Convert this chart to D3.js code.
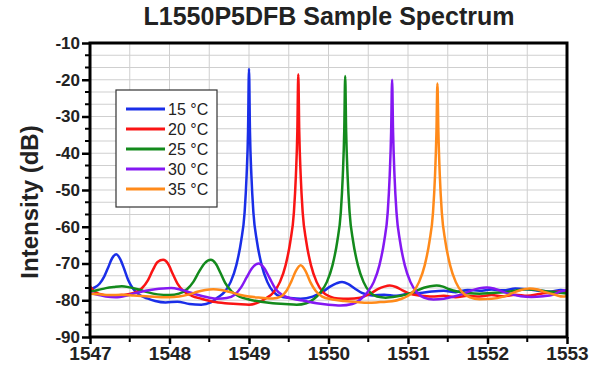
<!DOCTYPE html>
<html>
<head>
<meta charset="utf-8">
<script src="https://cdn.jsdelivr.net/npm/d3@7"></script>
<style>
  body { margin: 0; background: #fff; }
  svg { display: block; font-family: Arial, "Liberation Sans", sans-serif; }
</style>
</head>
<body>
<div id="chart"></div>
<script>
// spectra: [wavelength (nm), intensity (dB)]
const blue15 = [[1547.00,-77.0],[1547.06,-76.5],[1547.12,-75.5],[1547.18,-73.5],[1547.23,-71],[1547.28,-68.5],[1547.33,-67.5],[1547.38,-68.8],[1547.43,-71.5],[1547.48,-74.5],[1547.54,-76.8],[1547.62,-78.5],[1547.72,-79.5],[1547.82,-80.2],[1547.95,-80.6],[1548.1,-80.4],[1548.25,-81],[1548.4,-81.2],[1548.52,-80.6],[1548.61,-79.2],[1548.69,-77.8],[1548.77,-75],[1548.84,-70.5],[1548.9,-64],[1548.945,-56],[1548.97,-46],[1548.988,-34],[1549.0,-17],[1549.012,-34],[1549.03,-46],[1549.055,-56],[1549.1,-64],[1549.16,-70.5],[1549.23,-75],[1549.31,-77.8],[1549.4,-79],[1549.52,-79.4],[1549.65,-79.6],[1549.8,-79],[1549.92,-77.8],[1550.02,-76.3],[1550.1,-75.4],[1550.17,-75],[1550.25,-75.6],[1550.33,-76.8],[1550.42,-78],[1550.55,-78.7],[1550.7,-78.5],[1550.85,-78.8],[1551.0,-78.2],[1551.15,-78],[1551.3,-77.6],[1551.45,-77.4],[1551.6,-77.8],[1551.75,-77.2],[1551.9,-77.4],[1552.05,-77.1],[1552.2,-77.3],[1552.35,-76.8],[1552.5,-77],[1552.65,-77.4],[1552.8,-77.6],[1552.92,-77.2],[1553.0,-77.5]];
const red20 = [[1547.00,-76.2],[1547.05,-77.5],[1547.12,-78.3],[1547.25,-78.8],[1547.4,-78.6],[1547.55,-78],[1547.65,-76.8],[1547.73,-74.5],[1547.79,-71.8],[1547.85,-69.6],[1547.92,-69],[1547.98,-70],[1548.04,-72.8],[1548.1,-75.5],[1548.18,-77.6],[1548.28,-78.8],[1548.4,-79.6],[1548.55,-80.4],[1548.7,-80.8],[1548.85,-81],[1549.0,-81.2],[1549.12,-80.6],[1549.22,-79.4],[1549.31,-77.8],[1549.39,-75],[1549.46,-70.5],[1549.52,-64],[1549.565,-56],[1549.59,-46],[1549.608,-34],[1549.62,-18.5],[1549.632,-34],[1549.65,-46],[1549.675,-56],[1549.72,-64],[1549.78,-70.5],[1549.85,-75],[1549.93,-77.8],[1550.02,-79],[1550.12,-79.5],[1550.25,-79.6],[1550.4,-79.3],[1550.52,-78.3],[1550.62,-77],[1550.7,-76.3],[1550.77,-76],[1550.85,-76.4],[1550.93,-77.3],[1551.02,-78.2],[1551.15,-78.7],[1551.3,-79],[1551.45,-78.8],[1551.6,-79.2],[1551.75,-78.8],[1551.9,-79],[1552.05,-78.6],[1552.2,-78.9],[1552.35,-78.5],[1552.5,-78.8],[1552.65,-78.3],[1552.8,-77.8],[1552.92,-77.6],[1553.0,-78]];
const green25 = [[1547.00,-77.6],[1547.1,-77.2],[1547.2,-76.7],[1547.3,-76.4],[1547.4,-76.2],[1547.5,-76.5],[1547.6,-77],[1547.72,-77.8],[1547.85,-78.4],[1548.0,-78.6],[1548.12,-78.2],[1548.22,-77],[1548.3,-75],[1548.37,-72.3],[1548.44,-70],[1548.52,-69],[1548.58,-70],[1548.64,-72.5],[1548.7,-75.3],[1548.78,-77.6],[1548.88,-79],[1549.0,-79.8],[1549.15,-80.4],[1549.3,-80.8],[1549.45,-81],[1549.6,-81.2],[1549.72,-80.8],[1549.82,-79.6],[1549.9,-77.8],[1549.98,-75],[1550.05,-70.5],[1550.11,-64],[1550.155,-56],[1550.18,-46],[1550.198,-34],[1550.21,-19],[1550.222,-34],[1550.24,-46],[1550.265,-56],[1550.31,-64],[1550.37,-70.5],[1550.44,-75],[1550.52,-77.8],[1550.61,-79],[1550.72,-79.3],[1550.85,-79],[1550.98,-78.4],[1551.1,-77.5],[1551.2,-76.6],[1551.28,-76.2],[1551.36,-76],[1551.44,-76.3],[1551.52,-77],[1551.62,-77.6],[1551.75,-78],[1551.9,-78.2],[1552.05,-78],[1552.2,-77.8],[1552.35,-77.4],[1552.5,-77],[1552.62,-77.2],[1552.75,-77.6],[1552.88,-77.9],[1553.0,-78.2]];
const purple30 = [[1547.00,-78],[1547.1,-78.5],[1547.2,-79],[1547.32,-79.2],[1547.45,-78.8],[1547.58,-78],[1547.7,-77.4],[1547.82,-77],[1547.92,-76.8],[1548.02,-76.7],[1548.12,-77],[1548.22,-77.6],[1548.35,-78.5],[1548.48,-79.2],[1548.6,-79.6],[1548.72,-79.4],[1548.82,-78.5],[1548.9,-76.5],[1548.97,-73.8],[1549.04,-71.2],[1549.12,-70],[1549.19,-71.2],[1549.26,-74],[1549.33,-76.8],[1549.42,-78.6],[1549.55,-79.6],[1549.7,-80.2],[1549.85,-80.8],[1550.0,-81.2],[1550.15,-81.4],[1550.3,-81],[1550.4,-79.8],[1550.49,-77.8],[1550.57,-75],[1550.64,-70.5],[1550.7,-64],[1550.745,-56],[1550.77,-46],[1550.788,-34],[1550.80,-20],[1550.812,-34],[1550.83,-46],[1550.855,-56],[1550.9,-64],[1550.96,-70.5],[1551.03,-75],[1551.11,-77.8],[1551.2,-79.3],[1551.32,-79.8],[1551.45,-79.6],[1551.58,-79],[1551.7,-78.2],[1551.8,-77.3],[1551.9,-76.7],[1551.99,-76.5],[1552.08,-76.8],[1552.18,-77.6],[1552.3,-78.4],[1552.42,-78.9],[1552.55,-79.1],[1552.7,-78.9],[1552.82,-78.5],[1552.92,-77.6],[1553.0,-77.2]];
const orange35 = [[1547.00,-78.2],[1547.12,-78.4],[1547.25,-78.6],[1547.4,-78.5],[1547.55,-78.7],[1547.7,-78.9],[1547.85,-79.1],[1548.0,-79.2],[1548.12,-79],[1548.25,-78.4],[1548.35,-77.7],[1548.45,-77.2],[1548.55,-77],[1548.65,-77.2],[1548.75,-77.7],[1548.88,-78.5],[1549.0,-79],[1549.15,-79.3],[1549.3,-79.5],[1549.4,-79],[1549.47,-77.5],[1549.53,-75],[1549.59,-72],[1549.65,-70.5],[1549.71,-72],[1549.77,-75],[1549.84,-77.5],[1549.92,-79],[1550.05,-79.8],[1550.2,-80.2],[1550.35,-80.5],[1550.5,-80.7],[1550.65,-80.5],[1550.8,-80.3],[1550.92,-79.6],[1550.99,-78.9],[1551.06,-77.8],[1551.14,-75],[1551.21,-70.5],[1551.27,-64],[1551.315,-56],[1551.34,-46],[1551.358,-34],[1551.37,-21],[1551.382,-34],[1551.4,-46],[1551.425,-56],[1551.47,-64],[1551.53,-70.5],[1551.6,-75],[1551.68,-77.8],[1551.78,-79.2],[1551.9,-79.7],[1552.05,-79.6],[1552.2,-79],[1552.32,-78],[1552.42,-77.2],[1552.53,-76.8],[1552.63,-77.1],[1552.73,-77.8],[1552.85,-78.5],[1552.95,-79],[1553.0,-78.8]];

const seriesNames = ["15 °C", "20 °C", "25 °C", "30 °C", "35 °C"];
const seriesData = [blue15, red20, green25, purple30, orange35];
const seriesColors = ["#1a2ee8", "#fa1414", "#138a1c", "#8418f2", "#ff8a1a"];

const xTicks = [1547, 1548, 1549, 1550, 1551, 1552, 1553];
const yTicks = [-90, -80, -70, -60, -50, -40, -30, -20, -10];
const titleText = "L1550P5DFB Sample Spectrum";
const yLabelText = "Intensity (dB)";

const width = 589, height = 368;
const margin = { left: 90, right: 22, top: 43, bottom: 31 };

const svg = d3.select("#chart").append("svg")
  .attr("width", width)
  .attr("height", height);

const x = d3.scaleLinear().domain([1547, 1553]).range([margin.left, width - margin.right]);
const y = d3.scaleLinear().domain([-90, -10]).range([height - margin.bottom, margin.top]);

// grid: vertical every 0.5 nm, horizontal every 10/3 dB
const xGrid = d3.range(1547.5, 1553, 0.5);
const yGrid = d3.range(1, 24).map(i => -90 + i * 10 / 3);

svg.append("g").selectAll("line").data(xGrid).join("line")
  .attr("x1", d => x(d)).attr("x2", d => x(d))
  .attr("y1", y(-90)).attr("y2", y(-10))
  .attr("stroke", "#cfcfcf").attr("stroke-width", 1);

svg.append("g").selectAll("line").data(yGrid).join("line")
  .attr("x1", x(1547)).attr("x2", x(1553))
  .attr("y1", d => y(d)).attr("y2", d => y(d))
  .attr("stroke", "#cfcfcf").attr("stroke-width", 1);

svg.append("clipPath").attr("id", "plotClip")
  .append("rect")
  .attr("x", x(1547)).attr("y", y(-10))
  .attr("width", x(1553) - x(1547)).attr("height", y(-90) - y(-10));

const line = d3.line()
  .x(d => x(d[0]))
  .y(d => y(d[1]))
  .curve(d3.curveMonotoneX);

svg.append("g").attr("clip-path", "url(#plotClip)")
  .selectAll("path").data(seriesData).join("path")
  .attr("d", d => line(d))
  .attr("fill", "none")
  .attr("stroke", (d, i) => seriesColors[i])
  .attr("stroke-width", 2.5)
  .attr("stroke-linejoin", "round");

// axes (outward ticks), plain hyphen minus like the original
const xMinor = d3.range(1547.5, 1553, 1);
const yMinor = yGrid.filter(v => Math.abs(v - Math.round(v / 10) * 10) > 0.5);

const xAxis = svg.append("g").attr("transform", `translate(0,${y(-90)})`);
xAxis.call(d3.axisBottom(x).tickValues(xTicks).tickFormat(d => String(d)).tickSize(7).tickPadding(3));
xAxis.select(".domain").remove();
xAxis.selectAll(".tick line").attr("stroke", "#000").attr("stroke-width", 2.5);
xAxis.selectAll(".tick text")
  .attr("font-size", 19).attr("font-weight", "bold").attr("fill", "#222")
  .attr("font-family", "Arial, 'Liberation Sans', sans-serif");
xAxis.selectAll(".minor").data(xMinor).join("line")
  .attr("class", "minor")
  .attr("x1", d => x(d)).attr("x2", d => x(d))
  .attr("y1", 0).attr("y2", 5)
  .attr("stroke", "#000").attr("stroke-width", 2);

const yAxis = svg.append("g").attr("transform", `translate(${x(1547)},0)`);
yAxis.call(d3.axisLeft(y).tickValues(yTicks).tickFormat(d => String(d)).tickSize(8).tickPadding(2));
yAxis.select(".domain").remove();
yAxis.selectAll(".tick line").attr("stroke", "#000").attr("stroke-width", 2.5);
yAxis.selectAll(".tick text")
  .attr("font-size", 17).attr("font-weight", "bold").attr("fill", "#222")
  .attr("font-family", "Arial, 'Liberation Sans', sans-serif");
yAxis.selectAll(".minor").data(yMinor).join("line")
  .attr("class", "minor")
  .attr("x1", -5).attr("x2", 0)
  .attr("y1", d => y(d)).attr("y2", d => y(d))
  .attr("stroke", "#000").attr("stroke-width", 2);

// frame
svg.append("rect")
  .attr("x", x(1547)).attr("y", y(-10))
  .attr("width", x(1553) - x(1547)).attr("height", y(-90) - y(-10))
  .attr("fill", "none").attr("stroke", "#000").attr("stroke-width", 3);

// title and axis label
svg.append("text")
  .attr("x", 329).attr("y", 25)
  .attr("text-anchor", "middle")
  .attr("font-size", 25).attr("font-weight", "bold").attr("fill", "#222")
  .text(titleText);

svg.append("text")
  .attr("transform", `translate(38,${(y(-10) + y(-90)) / 2 + 12}) rotate(-90)`)
  .attr("text-anchor", "middle")
  .attr("font-size", 24).attr("font-weight", "bold").attr("fill", "#222")
  .text(yLabelText);

// legend
const legend = svg.append("g").attr("transform", "translate(116,90)");
legend.append("rect")
  .attr("width", 101).attr("height", 117)
  .attr("fill", "#fff").attr("stroke", "#333").attr("stroke-width", 1.2);

const items = legend.selectAll(".item").data(seriesNames).join("g")
  .attr("class", "item")
  .attr("transform", (d, i) => `translate(0,${19 + i * 20})`);
items.append("line")
  .attr("x1", 10).attr("x2", 49)
  .attr("stroke", (d, i) => seriesColors[i])
  .attr("stroke-width", 3);
items.append("text")
  .attr("x", 52).attr("y", 6)
  .attr("font-size", 16).attr("fill", "#222")
  .text(d => d);
</script>
</body>
</html>
